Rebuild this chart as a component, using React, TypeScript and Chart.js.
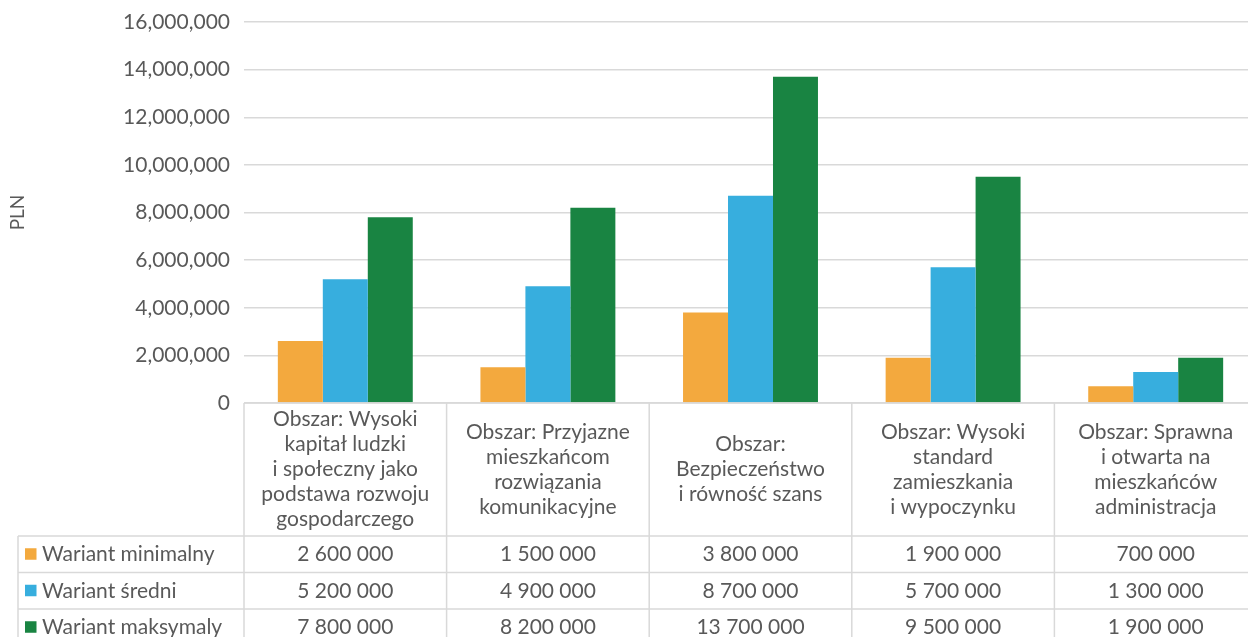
import React, { useEffect, useRef } from "react";
import { Chart, registerables } from "chart.js";

Chart.register(...registerables);

// Category labels, already broken into lines as they appear in the table header
const categories: string[][] = [
  ["Obszar: Wysoki", "kapitał ludzki", "i społeczny jako", "podstawa rozwoju", "gospodarczego"],
  ["Obszar: Przyjazne", "mieszkańcom", "rozwiązania", "komunikacyjne"],
  ["Obszar:", "Bezpieczeństwo", "i równość szans"],
  ["Obszar: Wysoki", "standard", "zamieszkania", "i wypoczynku"],
  ["Obszar: Sprawna", "i otwarta na", "mieszkańców", "administracja"],
];

const seriesNames = ["Wariant minimalny", "Wariant średni", "Wariant maksymaly"];
const wariantMinimalny = [2600000, 1500000, 3800000, 1900000, 700000];
const wariantSredni = [5200000, 4900000, 8700000, 5700000, 1300000];
const wariantMaksymalny = [7800000, 8200000, 13700000, 9500000, 1900000];
const seriesColors = ["#F3A93E", "#37AEDE", "#198442"];

const yMin = 0;
const yMax = 16000000;
const yStep = 2000000;
const yTitle = "PLN";

const TEXT = "#595959";
const GRID = "#D9D9D9";
const FONT_FAMILY = "Lato, 'Noto Sans', sans-serif";
const FONT_SIZE = 21;

const fmtTick = (v: number) => v.toString().replace(/\B(?=(\d{3})+(?!\d))/g, ",");
const fmtCell = (v: number) => v.toString().replace(/\B(?=(\d{3})+(?!\d))/g, " ");

// Data table drawn under the plot area, aligned with the category scale
const dataTablePlugin = {
  id: "dataTable",
  afterDraw(chart: any) {
    const { ctx, chartArea, data } = chart;
    const left = chartArea.left;
    const right = chartArea.right;
    const top = chartArea.bottom;
    const labels = data.labels as string[][];
    const n = labels.length;
    const colW = (right - left) / n;
    const headerH = 133;
    const rowH = 36.5;
    const legendLeft = 18;
    const headerBottom = top + headerH;
    const rows = data.datasets.length;
    const tableBottom = headerBottom + rows * rowH;

    ctx.save();
    ctx.strokeStyle = GRID;
    ctx.lineWidth = 1.5;

    // horizontal rules
    ctx.beginPath();
    ctx.moveTo(left, top);
    ctx.lineTo(right, top);
    for (let r = 0; r <= rows; r++) {
      const y = headerBottom + r * rowH;
      ctx.moveTo(legendLeft, y);
      ctx.lineTo(right, y);
    }
    // vertical rules
    ctx.moveTo(legendLeft, headerBottom);
    ctx.lineTo(legendLeft, tableBottom);
    for (let i = 0; i <= n; i++) {
      const x = left + i * colW;
      ctx.moveTo(x, top);
      ctx.lineTo(x, tableBottom);
    }
    ctx.stroke();

    ctx.fillStyle = TEXT;
    ctx.font = `${FONT_SIZE}px ${FONT_FAMILY}`;
    ctx.textBaseline = "middle";
    ctx.textAlign = "center";

    // header cells
    const lineH = 25;
    labels.forEach((lines, i) => {
      const cx = left + (i + 0.5) * colW;
      const cy = (top + headerBottom) / 2;
      const start = cy - ((lines.length - 1) * lineH) / 2;
      lines.forEach((t, k) => ctx.fillText(t, cx, start + k * lineH));
    });

    // value rows with legend keys
    data.datasets.forEach((ds: any, r: number) => {
      const cy = headerBottom + r * rowH + rowH / 2;
      ctx.fillStyle = ds.backgroundColor;
      ctx.fillRect(25, cy - 6, 11.5, 11.5);
      ctx.fillStyle = TEXT;
      ctx.textAlign = "left";
      ctx.fillText(ds.label, 42, cy);
      ctx.textAlign = "center";
      (ds.data as number[]).forEach((v, i) => {
        ctx.fillText(fmtCell(v), left + (i + 0.5) * colW, cy);
      });
    });
    ctx.restore();
  },
};

export default function App() {
  const canvasRef = useRef<HTMLCanvasElement | null>(null);

  useEffect(() => {
    if (!canvasRef.current) return;
    const seriesData = [wariantMinimalny, wariantSredni, wariantMaksymalny];
    const chart = new Chart(canvasRef.current, {
      type: "bar",
      data: {
        labels: categories,
        datasets: seriesNames.map((name, i) => ({
          label: name,
          data: seriesData[i],
          backgroundColor: seriesColors[i],
          borderWidth: 0,
          categoryPercentage: 0.666,
          barPercentage: 1,
        })),
      },
      options: {
        animation: false,
        responsive: false,
        layout: { padding: { top: 22, bottom: 234, left: 0, right: 0 } },
        plugins: {
          legend: { display: false },
          tooltip: { enabled: false },
        },
        scales: {
          x: {
            display: false,
            offset: true,
          },
          y: {
            min: yMin,
            max: yMax,
            border: { display: false },
            grid: { color: GRID, lineWidth: 1.5, drawTicks: false },
            ticks: {
              stepSize: yStep,
              padding: 14,
              color: TEXT,
              font: { family: FONT_FAMILY, size: FONT_SIZE },
              callback: (v: any) => fmtTick(Number(v)),
            },
            title: {
              display: true,
              text: yTitle,
              color: TEXT,
              font: { family: FONT_FAMILY, size: 19 },
              padding: { top: 6, bottom: 0 },
            },
            afterFit: (scale: any) => {
              scale.width = 244;
              // plot area edges come from the layout padding alone
              scale.paddingTop = 0;
              scale.paddingBottom = 0;
            },
          },
        },
      },
      plugins: [dataTablePlugin],
    });
    return () => chart.destroy();
  }, []);

  return (
    <div
      style={{
        position: "fixed",
        top: 0,
        left: 0,
        width: 1248,
        height: 637,
        overflow: "hidden",
        background: "#fff",
      }}
    >
      <canvas ref={canvasRef} width={1257} height={637} style={{ display: "block" }} />
    </div>
  );
}
